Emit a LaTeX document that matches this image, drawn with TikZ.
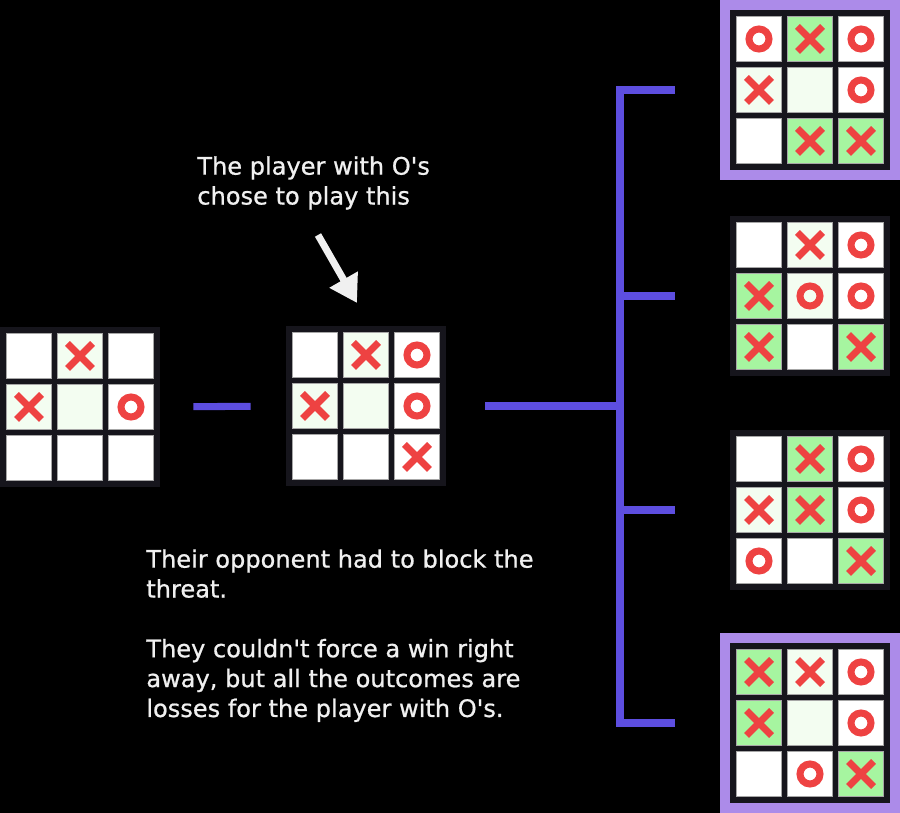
\documentclass[tikz,border=0pt]{standalone}
\usepackage{fontspec}
\setmainfont{DejaVu Sans}
\newfontfamily\notefont{DejaVu Sans}[FakeBold=0.8]
\usetikzlibrary{arrows.meta}
\definecolor{boardbg}{HTML}{16151C}
\definecolor{pale}{HTML}{F3FDF1}
\definecolor{win}{HTML}{A6F5A0}
\definecolor{markred}{HTML}{EE4242}
\definecolor{linkblue}{HTML}{5D4EE0}
\definecolor{hilite}{HTML}{AC8BE9}
\definecolor{ink}{HTML}{F0F0F0}
\tikzset{
  boardbox/.style={fill=boardbg,minimum size=3.2cm,inner sep=0pt},
  framebox/.style={fill=hilite,minimum size=3.6cm,inner sep=0pt},
  cell/.style={draw=gray!70,line width=0.4pt,minimum size=0.9cm,inner sep=0pt},
  xo/.style={draw=markred,line width=4pt},
  link/.style={draw=linkblue,line width=4pt},
  pointer/.style={draw=ink,line width=4pt,-{Triangle[length=0.54cm,width=0.62cm]}},
  note/.style={text=ink,align=left,anchor=north west,inner sep=0pt,font=\notefont\fontsize{13.7}{17}\selectfont},
}
\newcommand{\board}[3]{%
  \node[boardbox] (#1) at (#2) {};
  \foreach \tint/\mk [count=\k from 0] in {#3} {
    \pgfmathtruncatemacro{\cc}{mod(\k,3)}
    \pgfmathtruncatemacro{\rr}{div(\k,3)}
    \node[cell,fill=\tint] (#1-\k) at ([shift={(\cc*51-51,\rr*51-51)}]#1.center) {};
    \if x\mk \draw[xo] (#1-\k.center) ++(-12.5,-12.5) -- ++(25,25) ++(-25,0) -- ++(25,-25);\fi
    \if o\mk \draw[xo] (#1-\k.center) circle[radius=0.2cm];\fi
  }%
}

\begin{document}
\begin{tikzpicture}[x=0.02cm,y=-0.02cm]
\path[use as bounding box,fill=black] (0,0) rectangle (900,813);
\node[framebox] at (810,90) {};
\node[framebox] at (810,723) {};
\board{b1}{80,407}{white/-,pale/x,white/-,pale/x,pale/-,white/o,white/-,white/-,white/-}
\board{b2}{366,406}{white/-,pale/x,white/o,pale/x,pale/-,white/o,white/-,white/-,white/x}
\board{ra}{810,90}{white/o,win/x,white/o,pale/x,pale/-,white/o,white/-,win/x,win/x}
\board{rb}{810,296}{white/-,pale/x,white/o,win/x,pale/o,white/o,win/x,white/-,win/x}
\board{rc}{810,510}{white/-,win/x,white/o,pale/x,win/x,white/o,white/o,white/-,win/x}
\board{rd}{810,723}{win/x,pale/x,white/o,win/x,pale/-,white/o,white/-,white/o,win/x}
\coordinate (fork) at (620,406);
\draw[link,shorten <=0.66cm,shorten >=0.7cm] (b1) -- (b2);
\draw[link,shorten <=0.78cm] (b2) -- (fork);
\draw[link,line cap=rect] (fork |- ra) -- (fork |- rd);
\foreach \r in {ra,rb,rc,rd}
  \draw[link,shorten >=1.1cm] (fork |- \r) -- (\r);
\node[note] (claim) at (197,156) {The player with O\textquotesingle s\\chose to play this};
\coordinate (tail) at (318,235);
\coordinate (tip) at (357,303);
\draw[pointer] (tail) -- (tip);
\node[note] (verdict) at (146,549) {Their opponent had to block the\\threat.\\[17pt]They couldn\textquotesingle t force a win right\\away, but all the outcomes are\\losses for the player with O\textquotesingle s.};
\end{tikzpicture}
\end{document}
